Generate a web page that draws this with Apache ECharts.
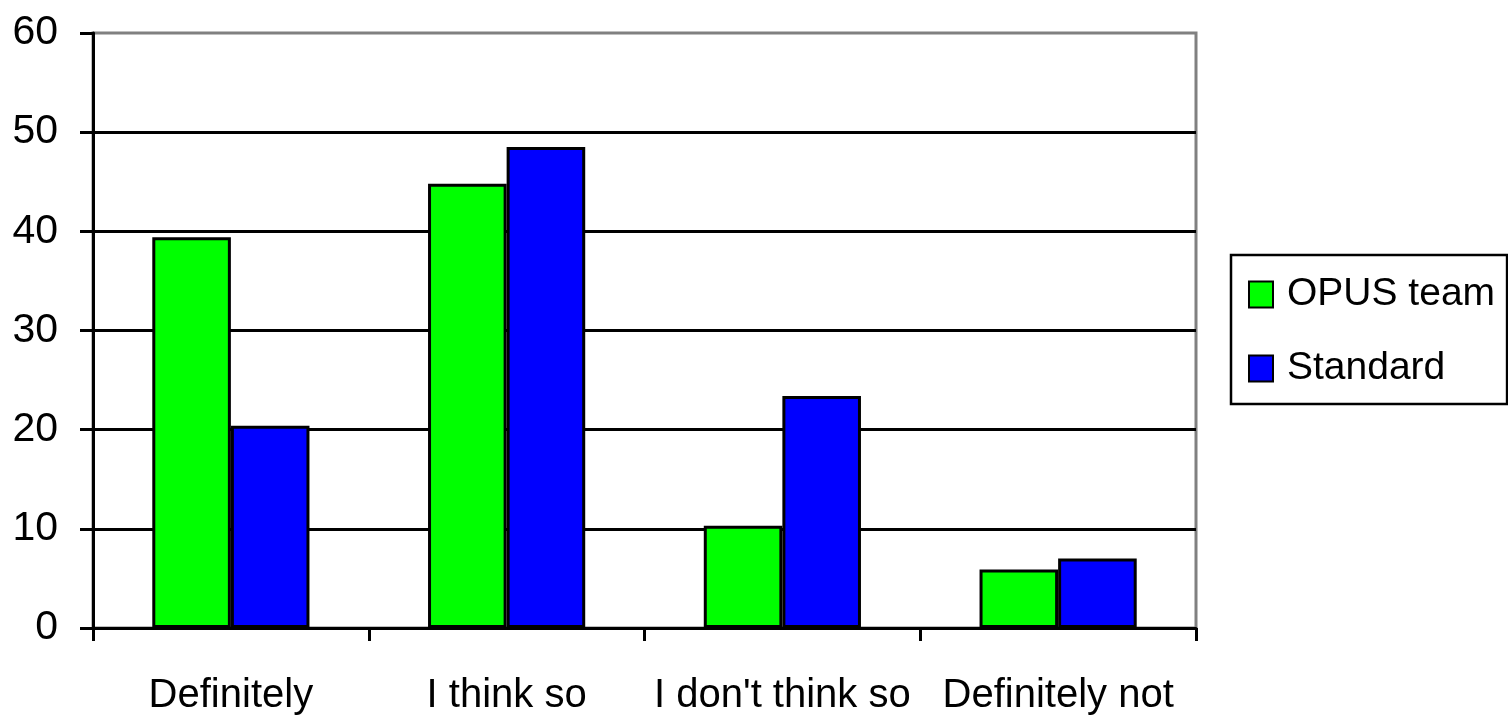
<!DOCTYPE html>
<html>
<head>
<meta charset="utf-8">
<script src="https://cdn.jsdelivr.net/npm/echarts@6/dist/echarts.min.js"></script>
<style>
  html, body { margin: 0; padding: 0; background: #fff; }
  #chart { width: 1508px; height: 716px; }
</style>
</head>
<body>
<div id="chart"></div>
<script>
// Survey answers by group (percent)
const categories = ['Definitely', 'I think so', "I don't think so", 'Definitely not'];
const opusTeam = [39.4, 44.8, 10.3, 5.9];
const standard = [20.4, 48.5, 23.4, 7.0];
const seriesNames = ['OPUS team', 'Standard'];

const FONT = '"Liberation Sans", Arial, sans-serif';

const chart = echarts.init(document.getElementById('chart'));
chart.setOption({
  animation: false,
  backgroundColor: '#ffffff',
  grid: {
    left: 93, top: 33, right: 312, bottom: 88,
    show: true, borderColor: '#808080', borderWidth: 3,
    containLabel: false
  },
  legend: {
    orient: 'vertical',
    left: 1231, top: 255,
    padding: [20, 12, 16, 17],
    itemGap: 35,
    itemWidth: 24, itemHeight: 26,
    icon: 'rect',
    borderColor: '#000', borderWidth: 2.5,
    backgroundColor: '#fff',
    textStyle: { fontFamily: FONT, fontSize: 39, color: '#000', padding: [0, 0, 0, 9] },
    data: seriesNames
  },
  xAxis: {
    type: 'category',
    data: categories,
    axisLine: { lineStyle: { color: '#000', width: 3 } },
    axisTick: { show: true, interval: 0, length: 13, lineStyle: { color: '#000', width: 3 } },
    axisLabel: { interval: 0, fontFamily: FONT, fontSize: 40, color: '#000', margin: 48 }
  },
  yAxis: {
    type: 'value',
    min: 0, max: 60, interval: 10,
    axisLine: { show: true, lineStyle: { color: '#000', width: 3 } },
    axisTick: { show: true, length: 13, lineStyle: { color: '#000', width: 3 } },
    axisLabel: { fontFamily: FONT, fontSize: 41, color: '#000', margin: 35 },
    splitLine: { show: true, showMaxLine: false, lineStyle: { color: '#000', width: 3 } }
  },
  series: [
    {
      name: seriesNames[0], type: 'bar', data: opusTeam,
      barGap: '0%', barCategoryGap: '43%',
      itemStyle: { color: '#00ff00', borderColor: '#000', borderWidth: 3 }
    },
    {
      name: seriesNames[1], type: 'bar', data: standard,
      barGap: '0%', barCategoryGap: '43%',
      itemStyle: { color: '#0000ff', borderColor: '#000', borderWidth: 3 }
    }
  ]
});
</script>
</body>
</html>
